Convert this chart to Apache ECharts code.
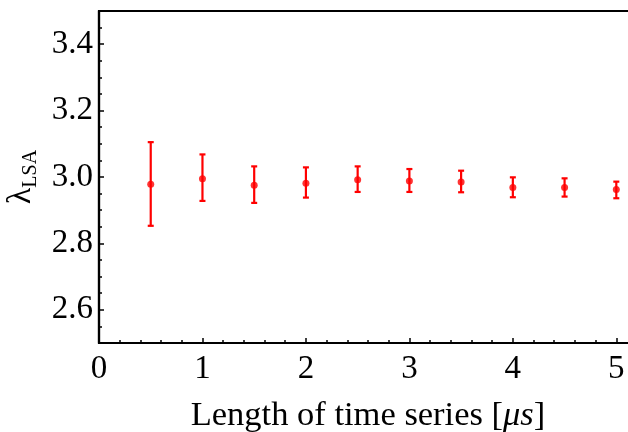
<!DOCTYPE html>
<html>
<head>
<meta charset="utf-8">
<script src="https://cdn.jsdelivr.net/npm/echarts@6/dist/echarts.min.js"></script>
<style>
  html, body {margin: 0; padding: 0; background: #fff;}
  #chart {width: 628px; height: 432px;}
</style>
</head>
<body>
<div id="chart"></div>
<script>
// time series lengths [us]
const lengths = [0.5, 1, 1.5, 2, 2.5, 3, 3.5, 4, 4.5, 5]
// lambda_LSA estimates with error bar ends
const lambdaMean = [2.978, 2.995, 2.975, 2.981, 2.992, 2.988, 2.985, 2.968, 2.968, 2.962]
const lambdaHigh = [3.105, 3.068, 3.032, 3.029, 3.032, 3.024, 3.019, 2.999, 2.996, 2.986]
const lambdaLow = [2.853, 2.928, 2.922, 2.938, 2.955, 2.955, 2.954, 2.939, 2.941, 2.936]
const yTicks = [2.6, 2.8, 3.0, 3.2, 3.4]
const xTicks = [0, 1, 2, 3, 4, 5]

const serif = '"Liberation Serif", "DejaVu Serif", serif'
const red = '#ff0000'

const points = lengths.map((x, i) => [x, lambdaMean[i]])
const bars = lengths.map((x, i) => [x, lambdaLow[i], lambdaHigh[i]])

function renderBar(params, api) {
  const lo = api.coord([api.value(0), api.value(1)])
  const hi = api.coord([api.value(0), api.value(2)])
  const w = 3
  const style = {stroke: red, lineWidth: 2.2}
  return {
    type: 'group',
    children: [
      {type: 'line', shape: {x1: lo[0], y1: lo[1], x2: hi[0], y2: hi[1]}, style},
      {type: 'line', shape: {x1: lo[0] - w, y1: lo[1], x2: lo[0] + w, y2: lo[1]}, style},
      {type: 'line', shape: {x1: hi[0] - w, y1: hi[1], x2: hi[0] + w, y2: hi[1]}, style}
    ]
  }
}

const chart = echarts.init(document.getElementById('chart'))
chart.setOption({
  animation: false,
  grid: {
    left: 99, top: 11, right: -9, bottom: 89,
    show: true, borderColor: '#000', borderWidth: 2.2,
    outerBoundsMode: 'none'
  },
  xAxis: [
    {
      type: 'value', min: 0, max: 5.2, interval: 1,
      splitLine: {show: false},
      axisLine: {lineStyle: {color: '#000', width: 2.2}},
      axisTick: {inside: true, length: 5, customValues: xTicks, lineStyle: {color: '#000', width: 1.5}},
      axisLabel: {
        customValues: xTicks, margin: 10,
        color: '#000', fontFamily: serif, fontSize: 33
      },
      name: 'Length of time series [{i|μs}]',
      nameLocation: 'middle', nameGap: 55,
      nameTextStyle: {
        color: '#000', fontFamily: serif, fontSize: 34.5,
        rich: {i: {fontFamily: serif, fontSize: 34.5, fontStyle: 'italic', color: '#000'}}
      }
    },
    {
      type: 'value', min: 0, max: 5.2, interval: 0.2, position: 'bottom',
      splitLine: {show: false},
      axisLine: {show: false},
      axisTick: {inside: true, length: 3, lineStyle: {color: '#000', width: 1.5}},
      axisLabel: {show: false}
    }
  ],
  yAxis: [
    {
      type: 'value', min: 2.5, max: 3.5,
      splitLine: {show: false},
      axisLine: {show: true, lineStyle: {color: '#000', width: 2.2}},
      axisTick: {show: true, inside: true, length: 5, customValues: yTicks, lineStyle: {color: '#000', width: 1.5}},
      axisLabel: {
        customValues: yTicks, margin: 6,
        formatter: v => v.toFixed(1),
        color: '#000', fontFamily: serif, fontSize: 33
      },
      name: '{a|λ}{b|LSA}',
      nameLocation: 'middle', nameRotate: 90, nameGap: 47,
      nameTextStyle: {
        rich: {
          a: {fontFamily: serif, fontSize: 34, color: '#000', lineHeight: 40, verticalAlign: 'middle'},
          b: {fontFamily: serif, fontSize: 20, color: '#000', lineHeight: 40, verticalAlign: 'bottom', padding: [14, 0, 0, 0]}
        }
      }
    },
    {
      type: 'value', min: 2.5, max: 3.5, interval: 0.05, position: 'left',
      splitLine: {show: false},
      axisLine: {show: false},
      axisTick: {show: true, inside: true, length: 3, lineStyle: {color: '#000', width: 1.5}},
      axisLabel: {show: false}
    }
  ],
  series: [
    {
      type: 'custom',
      renderItem: renderBar,
      encode: {x: 0, y: [1, 2]},
      data: bars,
      z: 3
    },
    {
      type: 'scatter',
      data: points,
      symbol: 'circle',
      symbolSize: 7,
      itemStyle: {color: red},
      z: 4
    }
  ]
})
</script>
</body>
</html>
